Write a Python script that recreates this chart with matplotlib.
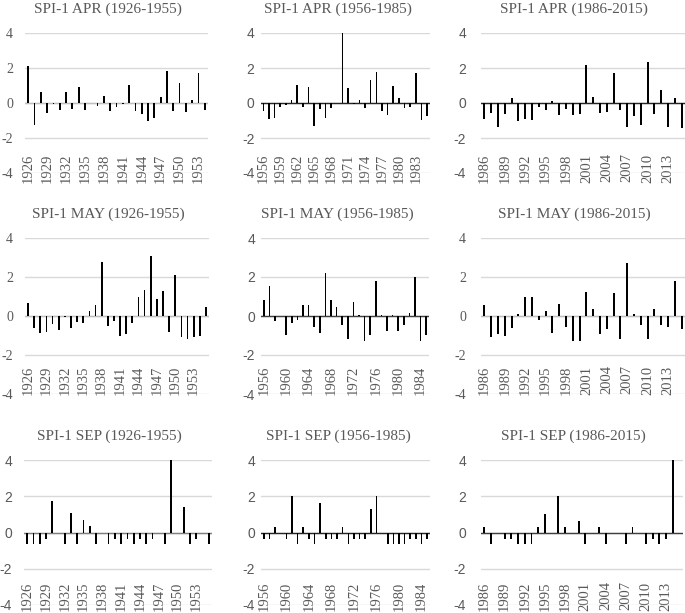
import matplotlib
matplotlib.use('Agg')
import matplotlib.pyplot as plt

# ---------------- data ----------------
apr1_years = list(range(1926, 1955))
apr1 = [2.1, -1.25, 0.65, -0.55, -0.05, -0.4, 0.65, -0.35, 0.9, -0.4, 0.0, -0.15, 0.4, -0.45, -0.2,
        -0.05, 1.05, -0.45, -0.65, -1.05, -0.85, 0.35, 1.85, -0.45, 1.15, -0.5, 0.15, 1.7, -0.4]

apr2_years = list(range(1956, 1986))
apr2 = [-0.45, -0.9, -0.85, -0.2, -0.1, 0.15, 1.05, -0.2, 0.9, -1.3, -0.35, -0.85, -0.3, 0.0, 4.0,
        0.85, -0.05, 0.2, -0.3, 1.3, 1.75, -0.45, -0.7, 1.0, 0.3, -0.3, -0.25, 1.7, -0.95, -0.75]

apr3_years = list(range(1986, 2016))
apr3 = [-0.9, -0.55, -1.35, -0.65, 0.3, -1.05, -0.9, -0.95, -0.25, -0.4, 0.1, -0.7, -0.35, -0.7, -0.6,
        2.2, 0.35, -0.55, -0.5, 1.7, -0.4, -1.35, -0.75, -1.25, 2.35, -0.6, 0.75, -1.35, 0.3, -1.4]

may1_years = list(range(1926, 1956))
may1 = [0.65, -0.6, -0.85, -0.8, -0.4, -0.7, -0.05, -0.6, -0.3, -0.35, 0.25, 0.55, 2.75, -0.5, -0.25,
        -1.0, -0.9, -0.35, 1.0, 1.35, 3.1, 0.85, 1.3, -0.8, 2.1, -1.1, -1.2, -1.1, -1.0, 0.45]

may2_years = list(range(1956, 1986))
may2 = [0.8, 1.55, -0.25, 0.0, -0.95, -0.35, -0.2, 0.55, 0.55, -0.55, -0.85, 2.2, 0.8, 0.45, -0.45,
        -1.2, 0.7, 0.05, -1.3, -0.95, 1.8, 0.05, -0.75, 0.05, -0.75, -0.45, 0.15, 2.0, -1.3, -0.95]

may3_years = list(range(1986, 2016))
may3 = [0.55, -1.1, -0.9, -1.0, -0.6, 0.08, 1.0, 1.0, -0.2, 0.25, -0.85, 0.6, -0.55, -1.3, -1.3,
        1.25, 0.35, -0.9, -0.65, 1.2, -1.2, 2.7, 0.08, -0.45, -1.2, 0.35, -0.45, -0.55, 1.8, -0.65]

sep1_years = list(range(1926, 1956))
sep1 = [-0.65, -0.65, -0.65, -0.35, 1.75, 0.0, -0.65, 1.05, -0.65, 0.7, 0.35, -0.65, 0.0, -0.65, -0.35,
        -0.65, -0.35, -0.65, -0.35, -0.65, -0.35, 0.0, -0.65, 4.0, 0.0, 1.4, -0.65, -0.35, 0.0, -0.65]

sep2_years = list(range(1956, 1986))
sep2 = [-0.35, -0.35, 0.3, 0.0, -0.35, 2.0, -0.65, 0.3, -0.35, -0.65, 1.65, -0.35, -0.35, -0.35, 0.3,
        -0.65, -0.35, -0.35, -0.35, 1.3, 2.0, 0.0, -0.65, -0.65, -0.65, -0.65, -0.35, -0.35, -0.65, -0.35]

sep3_years = list(range(1986, 2016))
sep3 = [0.3, -0.65, 0.0, -0.35, -0.35, -0.65, -0.65, -0.65, 0.3, 1.0, 0.0, 2.0, 0.3, 0.0, 0.65,
        -0.65, 0.0, 0.3, -0.65, 0.0, 0.0, -0.65, 0.3, 0.0, -0.65, -0.35, -0.65, -0.35, 4.0, 0.0]

titles = ['SPI-1 APR (1926-1955)', 'SPI-1 APR (1956-1985)', 'SPI-1 APR (1986-2015)',
          'SPI-1 MAY (1926-1955)', 'SPI-1 MAY (1956-1985)', 'SPI-1 MAY (1986-2015)',
          'SPI-1 SEP (1926-1955)', 'SPI-1 SEP (1956-1985)', 'SPI-1 SEP (1986-2015)']
y_ticks = [-4, -2, 0, 2, 4]
y_ticklabels = ['-4', '-2', '0', '2', '4']

# ---------------- layout ----------------
W, H = 685, 613
fig = plt.figure(figsize=(W / 100, H / 100), dpi=100)
GRAY = '#595959'
SERIF = 'Liberation Serif'
SANS = 'Liberation Sans'
PX = 0.72  # points per pixel at 100 dpi

series = [(apr1_years, apr1), (apr2_years, apr2), (apr3_years, apr3),
          (may1_years, may1), (may2_years, may2), (may3_years, may3),
          (sep1_years, sep1), (sep2_years, sep2), (sep3_years, sep3)]
steps = [3, 3, 3, 3, 4, 3, 3, 4, 3]
xr = [(25, 208), (260.5, 430), (481, 685),
      (25, 209), (261, 429), (481, 685),
      (24, 212), (261, 430), (481, 683)]
yr = [(33, 173), (238, 394), (460, 605)]
yfont = [SERIF, SANS, SANS, SERIF, SANS, SERIF, SANS, SANS, SANS]
ypad = [12, 6, 15]
zero_col = ['#bfbfbf', '#262626', '#262626', '#bfbfbf', '#404040', '#bfbfbf', '#808080', '#262626', '#404040']
xshift = [5, 14, 9]

for i in range(9):
    row, col = divmod(i, 3)
    years, vals = series[i]
    n = len(years)
    x0, x1 = xr[i]
    y0, y1 = yr[row]
    ax = fig.add_axes([x0 / W, 1 - y1 / H, (x1 - x0) / W, (y1 - y0) / H])
    ax.bar(range(n), vals, width=0.28, color='black', zorder=3)
    ax.set_xlim(-0.5, n - 0.5)
    ax.set_ylim(-4, 4)
    ax.set_yticks(y_ticks)
    ax.set_yticklabels(y_ticklabels, family=yfont[i], fontsize=10, color=GRAY)
    ax.yaxis.grid(True, color='#d9d9d9', lw=1.0)
    ax.set_axisbelow(True)
    ax.axhline(0, color=zero_col[i], lw=1.0, zorder=2)
    for s in ax.spines.values():
        s.set_visible(False)
    ax.tick_params(axis='y', length=0, pad=ypad[col] * PX)
    st = steps[i]
    ax.set_xticks(list(range(0, n, st)))
    ax.set_xticklabels([str(y) for y in years[::st]], rotation=90, va='center', ha='center',
                       family=SERIF, fontsize=10.5, color=GRAY)
    ax.tick_params(axis='x', length=0, pad=-xshift[row] * PX)
    ax.annotate(titles[i], xy=(0.455, 1.0), xycoords='axes fraction',
                xytext=(0, 24 * PX), textcoords='offset points',
                ha='center', va='center', family=SERIF, fontsize=11, color=GRAY)

fig.savefig('out.png', dpi=100)
